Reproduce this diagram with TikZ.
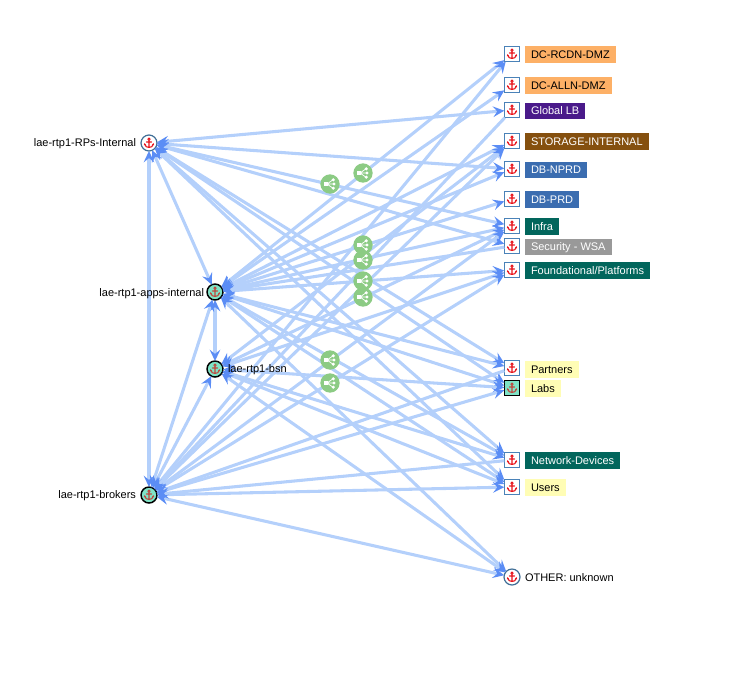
\documentclass[tikz,border=0pt]{standalone}
\usepackage{fontspec}
\setmainfont{Liberation Sans}
\usetikzlibrary{arrows.meta}
\definecolor{edgeblue}{HTML}{B4D0FB}
\definecolor{tipblue}{HTML}{5B8DF5}
\definecolor{frameblue}{HTML}{4A82B8}
\definecolor{ringblue}{HTML}{3F6E96}
\definecolor{aqua}{HTML}{7FE3C6}
\definecolor{anchorred}{HTML}{E8141C}
\definecolor{anchordim}{HTML}{C0483E}
\definecolor{svcgreen}{HTML}{8CCB84}
\definecolor{tagorange}{HTML}{FDB066}
\definecolor{tagpurple}{HTML}{4A1A8A}
\definecolor{tagbrown}{HTML}{85500F}
\definecolor{tagblue}{HTML}{3B6DB0}
\definecolor{tagteal}{HTML}{02665C}
\definecolor{taggray}{HTML}{999999}
\definecolor{tagyellow}{HTML}{FFFDB5}
\tikzset{
  x=0.75pt, y=-0.75pt,
  tipshape/.tip={Stealth[color=tipblue,length=8.5pt,width=8pt,inset=3.2pt]},
  link/.style={draw=edgeblue, line width=2.3pt, tipshape-tipshape},
  backlink/.style={draw=edgeblue, line width=2.3pt, tipshape-},
  roundhost/.style={circle, draw=ringblue, line width=0.9pt, fill=white, minimum size=12pt, inner sep=0pt, outer sep=0pt},
  activehost/.style={circle, draw=black, line width=1.1pt, fill=aqua, minimum size=12pt, inner sep=0pt, outer sep=0pt},
  boxhost/.style={rectangle, draw=frameblue, line width=0.9pt, fill=white, minimum size=11.5pt, inner sep=0pt, outer sep=0pt},
  activebox/.style={rectangle, draw=black, line width=1.1pt, fill=aqua, minimum size=11.5pt, inner sep=0pt, outer sep=0pt},
  svc/.style={circle, fill=svcgreen, minimum size=14.5pt, inner sep=0pt},
  caption/.style={font=\fontsize{8.25}{10}\selectfont, text=black, inner sep=0pt, outer sep=0pt},
  tag/.style={font=\fontsize{8.25}{10}\selectfont, anchor=west, inner sep=0pt, inner xsep=4.5pt,
    minimum height=12.5pt, text height=6pt, text depth=0.2pt, outer sep=0pt},
  pics/anchorglyph/.style={code={
    \draw[#1, line width=0.85pt, line cap=round, fill=none]
      (0,-2.8) -- (0,4.4)
      (-2.5,-1) -- (2.5,-1)
      (-4.2,1.4) .. controls (-3.8,3.6) and (-2,4.4) .. (0,4.4)
                 .. controls (2,4.4) and (3.8,3.6) .. (4.2,1.4);
    \draw[#1, line width=0.65pt, fill=none] (0,-3.9) circle[radius=1.2];
    \fill[#1] (-5.2,2.2) -- (-4.5,0) -- (-3,1.9) -- cycle;
    \fill[#1] (5.2,2.2) -- (4.5,0) -- (3,1.9) -- cycle;
  }},
  pics/sharemark/.style={code={
    \draw[white, line width=0.55pt] (-3,0) -- (3,-4.2) (-3,0) -- (3.5,0) (-3,0) -- (3,4.2);
    \fill[white] (-6,-2.4) rectangle (-1.6,2.4);
    \fill[white] (3.3,-4.2) circle[radius=1.7] (4,0) circle[radius=1.7] (3.3,4.2) circle[radius=1.7];
  }},
}
\begin{document}
\begin{tikzpicture}
\useasboundingbox (0,0) rectangle (741,672);

% hosts on the left
\node[roundhost]  (rp)  at (149,143) {};
\node[activehost] (app) at (215,292) {};
\node[activehost] (bsn) at (215,369) {};
\node[activehost] (brk) at (149,495) {};

% hosts on the right
\node[boxhost]   (rcdn)  at (512,54)  {};
\node[boxhost]   (alln)  at (512,85)  {};
\node[boxhost]   (glb)   at (512,110) {};
\node[boxhost]   (stor)  at (512,141) {};
\node[boxhost]   (nprd)  at (512,169) {};
\node[boxhost]   (prd)   at (512,199) {};
\node[boxhost]   (infra) at (512,226) {};
\node[boxhost]   (sec)   at (512,246) {};
\node[boxhost]   (found) at (512,270) {};
\node[boxhost]   (part)  at (512,368) {};
\node[activebox] (labs)  at (512,388) {};
\node[boxhost]   (net)   at (512,460) {};
\node[boxhost]   (users) at (512,487) {};
\node[roundhost] (other) at (512,577) {};

% traffic in both directions
\foreach \a/\b in {
  rp/brk, rp/app, app/bsn, app/brk, bsn/brk,
  rp/glb, rp/nprd, rp/infra, rp/sec, rp/part, rp/labs, rp/net, rp/users,
  app/rcdn, app/alln, app/stor, app/nprd, app/prd, app/infra, app/found,
  app/part, app/labs, app/net, app/users, app/other,
  bsn/stor, bsn/infra, bsn/found, bsn/labs, bsn/net, bsn/users, bsn/other,
  brk/rcdn, brk/stor, brk/infra, brk/found,
  brk/labs, brk/users, brk/other}
  \draw[link] (\a) -- (\b);

% traffic received by the left-hand hosts only
\foreach \a/\b in {app/sec, brk/glb, brk/part, brk/net}
  \draw[backlink] (\a) -- (\b);

% service markers above the links
\foreach \n/\x/\y in {s1/330/184, s2/363/173, s3/363/245, s4/363/260, s5/363/281, s6/363/297, s7/330/360, s8/330/383} {
  \node[svc] (\n) at (\x,\y) {};
  \path (\n) pic {sharemark};
}

% anchor glyphs inside the hosts
\foreach \h in {rp,rcdn,alln,glb,stor,nprd,prd,infra,sec,found,part,net,users,other}
  \path (\h) pic {anchorglyph=anchorred};
\foreach \h in {app,bsn,brk,labs}
  \path (\h) pic {anchorglyph=anchordim};

% host captions
\node[caption, anchor=east] (rpl)  at (136,144) {lae-rtp1-RPs-Internal};
\node[caption, anchor=east] (appl) at (204,294) {lae-rtp1-apps-internal};
\node[caption, anchor=west] (bsnl) at (228,370) {lae-rtp1-bsn};
\node[caption, anchor=east] (brkl) at (136,496) {lae-rtp1-brokers};
\node[caption, anchor=west] (othl) at (525,578) {OTHER: unknown};

% coloured tags
\node[tag, fill=tagorange, text=black] (t1)  at (525,54.5)  {DC-RCDN-DMZ};
\node[tag, fill=tagorange, text=black] (t2)  at (525,85.5)  {DC-ALLN-DMZ};
\node[tag, fill=tagpurple, text=white] (t3)  at (525,111)   {Global LB};
\node[tag, fill=tagbrown,  text=white] (t4)  at (525,141.5) {STORAGE-INTERNAL};
\node[tag, fill=tagblue,   text=white] (t5)  at (525,170)   {DB-NPRD};
\node[tag, fill=tagblue,   text=white] (t6)  at (525,199.5) {DB-PRD};
\node[tag, fill=tagteal,   text=white] (t7)  at (525,226.5) {Infra};
\node[tag, fill=taggray,   text=white] (t8)  at (525,247)   {Security - WSA};
\node[tag, fill=tagteal,   text=white] (t9)  at (525,270.5) {Foundational/Platforms};
\node[tag, fill=tagyellow, text=black] (t10) at (525,369.5) {Partners};
\node[tag, fill=tagyellow, text=black] (t11) at (525,388.5) {Labs};
\node[tag, fill=tagteal,   text=white] (t12) at (525,460.5) {Network-Devices};
\node[tag, fill=tagyellow, text=black] (t13) at (525,487.5) {Users};
\end{tikzpicture}
\end{document}
